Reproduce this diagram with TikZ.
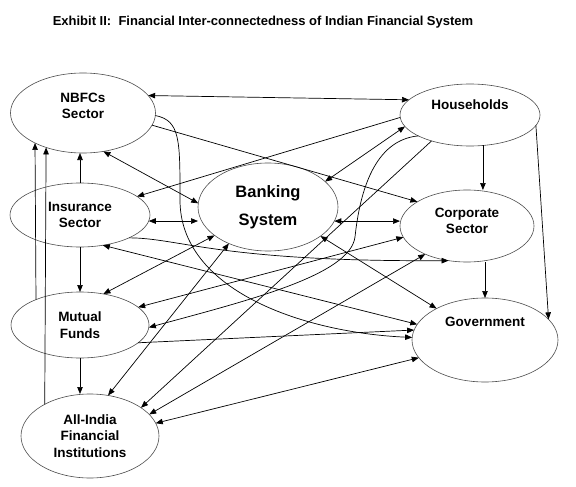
\documentclass[tikz,border=0pt]{standalone}
\usepackage{fontspec}
\setmainfont{Liberation Sans}
\usetikzlibrary{shapes.geometric, arrows.meta}

\begin{document}
\begin{tikzpicture}[x=1pt, y=-1pt, >={Triangle[length=7pt,width=5.5pt]}, main/.style={draw=black!70, ellipse, line width=0.6pt, inner sep=0pt, outer sep=0pt, align=center, font=\bfseries\fontsize{13.5}{16.5}\selectfont}, txt/.style={align=center, font=\bfseries\fontsize{13.5}{16.5}\selectfont}, n/.style={->, line width=0.7pt}, nn/.style={<->, line width=0.7pt}]
                \useasboundingbox (0,0) rectangle (576,487);
                % title
                \node[font=\bfseries\fontsize{13}{15}\selectfont] (title) at (263,22) {Exhibit II:\ \ Financial Inter-connectedness of Indian Financial System};
                % nodes
                \node[main, minimum width=145pt, minimum height=80pt, label={[txt, yshift=7pt]center:NBFCs\\Sector}] (nbfc) at (83,113) {};
                \node[main, minimum width=140pt, minimum height=64pt] (ins) at (80,215) {Insurance\\Sector};
                \node[main, minimum width=140pt, minimum height=88pt, font=\bfseries\fontsize{16.5}{28}\selectfont] (bank) at (268,207) {Banking\\System};
                \node[main, minimum width=140pt, minimum height=62pt, label={[txt, yshift=10pt]center:Households}] (hh) at (470,115) {};
                \node[main, minimum width=134pt, minimum height=72pt, label={[txt, yshift=5pt]center:Corporate\\Sector}] (corp) at (467,226) {};
                \node[main, minimum width=146pt, minimum height=84pt, label={[txt, yshift=18pt]center:Government}] (gov) at (485,340) {};
                \node[main, minimum width=138pt, minimum height=66pt] (mf) at (80,325) {Mutual\\Funds};
                \node[main, minimum width=138pt, minimum height=84pt] (aif) at (90,436) {All-India\\Financial\\Institutions};
                % edges
                \draw[nn] (nbfc.15) -- (hh.166);
                \draw[n] (nbfc.350) -- (corp.154);
                \draw[n] (nbfc.358) .. controls +(25,5) and +(0,-60) .. (180,200) .. controls +(0,90) and +(-110,-5) .. (gov.178);
                \draw[nn] (nbfc.298) -- (bank.177);
                \draw[n] (ins.north) -- (ins.north |- nbfc.south);
                \draw[n] (hh.182) -- (ins.18);
                \draw[nn] (ins.355) -- (ins.355 -| bank.west);
                \draw[n] (ins.335) .. controls (180,238) and (220,262) .. (corp.242);
                \draw[nn] (ins.307) -- (gov.167);
                \draw[n] (ins.south) -- (mf.north);
                \draw[n] (mf.150) -- (nbfc.212);
                \draw[n] (aif.145) -- (nbfc.223);
                \draw[n] (mf.south) -- (mf.south |- aif.north);
                \draw[nn] (bank.348) -- (bank.348 -| corp.west);
                \draw[n] (hh.293) -- (hh.293 |- corp.north);
                \draw[n] (hh.351) -- (gov.18);
                \draw[n] (gov.north |- corp.south) -- (gov.north);
                \draw[nn] (bank.331) -- (gov.147);
                \draw[nn] (bank.24) -- (hh.190);
                \draw[n] (hh.202) .. controls (375,140) and (360,190) .. (355,237) .. controls (350,275) and (250,300) .. (mf.358);
                \draw[nn] (bank.208) -- (mf.53);
                \draw[nn] (bank.223) -- (aif.66);
                \draw[nn] (corp.190) -- (mf.17);
                \draw[n] (hh.214) -- (aif.29);
                \draw[nn] (corp.214) -- (aif.20);
                \draw[n] (mf.343) -- (gov.172);
                \draw[nn] (aif.11) -- (gov.195);
            \end{tikzpicture}
\end{document}
